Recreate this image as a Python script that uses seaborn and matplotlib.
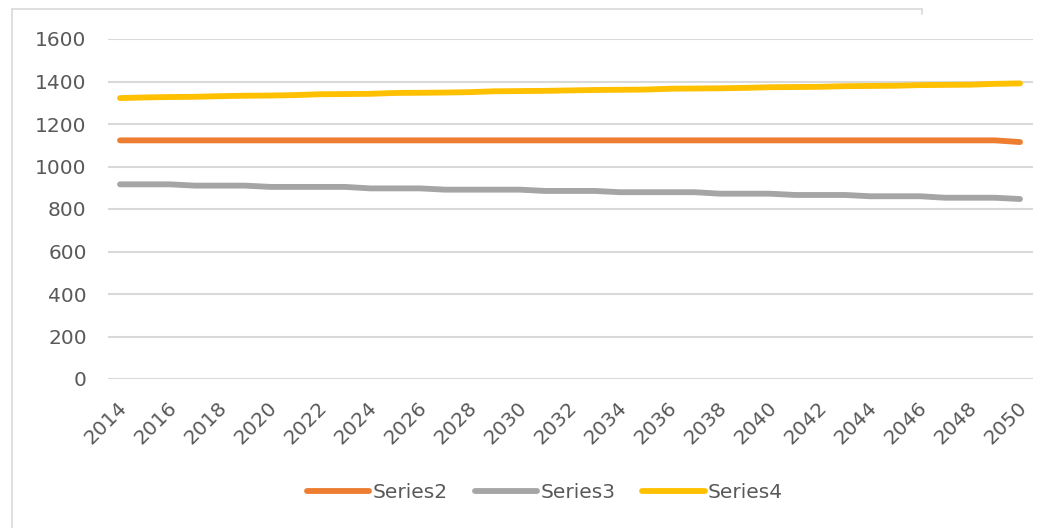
import matplotlib
matplotlib.use("Agg")
import matplotlib.pyplot as plt
import matplotlib.transforms as mtransforms
from matplotlib.lines import Line2D
import seaborn as sns
import pandas as pd

years = list(range(2014, 2051))
series2 = [1123] * 36 + [1115]
series3 = [916, 916, 916, 910, 910, 910, 904, 904, 904, 904, 897, 897, 897,
           891, 891, 891, 891, 885, 885, 885, 879, 879, 879, 879, 872, 872,
           872, 866, 866, 866, 860, 860, 860, 853, 853, 853, 847]
series4 = [1322, 1325, 1327, 1328, 1331, 1333, 1334, 1336, 1340, 1341, 1342,
           1346, 1347, 1348, 1350, 1354, 1355, 1356, 1358, 1360, 1361, 1362,
           1366, 1367, 1368, 1370, 1373, 1374, 1375, 1378, 1379, 1380, 1383,
           1384, 1385, 1389, 1391]
names = ["Series2", "Series3", "Series4"]
colors = ["#ED7D31", "#A5A5A5", "#FFC000"]
yticks = [0, 200, 400, 600, 800, 1000, 1200, 1400, 1600]
xticks = list(range(2014, 2051, 2))

df = pd.DataFrame({"year": years, "Series2": series2, "Series3": series3,
                   "Series4": series4})
long = df.melt(id_vars="year", var_name="series", value_name="value")

sns.set_theme(style="white")
plt.rcParams["font.family"] = ["DejaVu Sans"]
text_color = "#595959"
grid_color = "#D9D9D9"

fig = plt.figure(figsize=(10.56, 5.28), dpi=100)
ax = fig.add_axes([107.5 / 1056, 1 - 379 / 528, 925 / 1056, 340 / 528])

sns.lineplot(data=long, x="year", y="value", hue="series", hue_order=names,
             palette=colors, linewidth=4.2, ax=ax, legend=True,
             solid_capstyle="round")

ax.set_xlim(2013.5, 2050.5)
ax.set_ylim(0, 1600)
ax.set_yticks(yticks)
ax.set_xticks(xticks)
ax.set_xticklabels([str(y) for y in xticks], rotation=45, ha="right",
                   va="top", rotation_mode="anchor")
ax.grid(axis="y", color=grid_color, linewidth=1.5)
ax.set_axisbelow(True)
for s in ax.spines.values():
    s.set_visible(False)
ax.tick_params(axis="y", length=0, pad=15, labelsize=14.5, colors=text_color)
ax.tick_params(axis="x", length=0, pad=14, labelsize=14.5, colors=text_color)
offset = mtransforms.ScaledTranslation(-3 / 100, 0, fig.dpi_scale_trans)
for lbl in ax.get_xticklabels():
    lbl.set_transform(lbl.get_transform() + offset)
ax.set_xlabel("")
ax.set_ylabel("")

handles = [Line2D([0], [0], color=c, linewidth=4.2, solid_capstyle="round")
           for c in colors]
leg = ax.legend(handles, names, loc="center", bbox_to_anchor=(545 / 1056, 1 - 493 / 528),
                bbox_transform=fig.transFigure, ncol=3, frameon=False,
                fontsize=14.5, handlelength=3.1, handletextpad=0.15,
                columnspacing=1.35)
for t in leg.get_texts():
    t.set_color(text_color)

# chart-area border fragments
fig.add_artist(Line2D([12 / 1056, 12 / 1056], [0, 1 - 9 / 528],
                      transform=fig.transFigure, color=grid_color, linewidth=1.2))
fig.add_artist(Line2D([12 / 1056, 922 / 1056], [1 - 9 / 528, 1 - 9 / 528],
                      transform=fig.transFigure, color=grid_color, linewidth=1.2))
fig.add_artist(Line2D([922 / 1056, 922 / 1056], [1 - 9 / 528, 1 - 14 / 528],
                      transform=fig.transFigure, color=grid_color, linewidth=1.2))

fig.savefig("out.png", dpi=100, facecolor="white")
